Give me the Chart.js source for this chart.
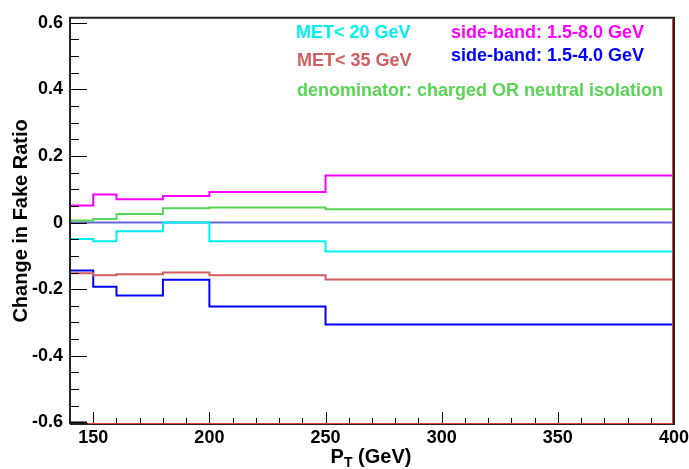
<!DOCTYPE html>
<html>
<head>
<meta charset="utf-8">
<script src="https://cdn.jsdelivr.net/npm/chart.js@4"></script>
<style>
  body { margin: 0; background: #fff; }
</style>
</head>
<body>
<canvas id="myChart" width="689" height="469"></canvas>
<script>
// bin edges in pT (GeV)
var edges = [140, 150, 160, 180, 200, 250, 400];

// change in fake ratio per bin
var sideBand8 = [0.051, 0.084, 0.070, 0.080, 0.092, 0.141];
var denomOr = [0.006, 0.011, 0.026, 0.043, 0.045, 0.040];
var nominal = [0, 0, 0, 0, 0, 0];
var met20 = [-0.049, -0.056, -0.026, 0.0, -0.056, -0.087];
var met35 = [-0.152, -0.158, -0.155, -0.150, -0.158, -0.171];
var sideBand4 = [-0.144, -0.193, -0.219, -0.172, -0.252, -0.306];

var xTicks = [150, 200, 250, 300, 350, 400];
var yTicks = [-0.6, -0.4, -0.2, 0, 0.2, 0.4, 0.6];

var legendItems = [
    { text: "MET< 20 GeV", color: "#00f0f0" },
    { text: "MET< 35 GeV", color: "#cf5e61" },
    { text: "side-band: 1.5-8.0 GeV", color: "#ff00ff" },
    { text: "side-band: 1.5-4.0 GeV", color: "#0000ff" },
    { text: "denominator: charged OR neutral isolation", color: "#59d454" }
];

var FONT = "'Liberation Sans', Arial, Helvetica, sans-serif";

function histPoints(vals) {
    var pts = [];
    for (var i = 0; i < vals.length; i++) {
        pts.push({ x: edges[i], y: vals[i] });
    }
    pts.push({ x: edges[edges.length - 1], y: vals[vals.length - 1] });
    return pts;
}

function hist(vals, color) {
    return {
        data: histPoints(vals),
        borderColor: color,
        borderWidth: 2,
        stepped: 'before',
        pointRadius: 0,
        fill: false
    };
}

const rootFrame = {
    id: 'rootFrame',
    afterDatasetsDraw(chart) {
        const ctx = chart.ctx;
        const a = chart.chartArea;
        const xs = chart.scales.x, ys = chart.scales.y;
        ctx.save();
        ctx.lineCap = 'butt';

        // tick marks inside the frame
        ctx.strokeStyle = '#000';
        ctx.lineWidth = 1;
        xs.ticks.forEach(t => {
            if (t.value <= xs.min || t.value >= xs.max) return;
            const px = Math.round(xs.getPixelForValue(t.value)) + 0.5;
            const len = xTicks.includes(t.value) ? 12 : 6;
            ctx.beginPath();
            ctx.moveTo(px, a.bottom);
            ctx.lineTo(px, a.bottom - len);
            ctx.stroke();
        });
        ys.ticks.forEach(t => {
            const py = Math.round(ys.getPixelForValue(t.value)) + 0.5;
            const major = yTicks.some(v => Math.abs(v - t.value) < 1e-6);
            const len = major ? 17 : 9;
            ctx.lineWidth = major && Math.abs(t.value + 0.6) < 1e-6 ? 2 : 1;
            ctx.beginPath();
            ctx.moveTo(a.left, py);
            ctx.lineTo(a.left + len, py);
            ctx.stroke();
        });

        // frame
        ctx.lineWidth = 2;
        ctx.strokeStyle = '#222';
        ctx.beginPath();
        ctx.moveTo(a.left, a.bottom);
        ctx.lineTo(a.left, a.top);
        ctx.lineTo(a.right, a.top);
        ctx.lineTo(a.right, a.bottom);
        ctx.lineTo(a.left, a.bottom);
        ctx.stroke();
        ctx.lineWidth = 1;
        ctx.strokeStyle = '#e04040';
        ctx.beginPath();
        ctx.moveTo(a.left + 18, a.bottom - 0.5);
        ctx.lineTo(a.right - 1.5, a.bottom - 0.5);
        ctx.lineTo(a.right - 1.5, a.top + 1);
        ctx.stroke();

        // legend texts
        ctx.font = 'bold 18px ' + FONT;
        ctx.textBaseline = 'middle';
        ctx.textAlign = 'left';
        const pos = [[296, 33], [297, 61], [451, 33], [451, 56], [297, 91]];
        legendItems.forEach((it, i) => {
            ctx.fillStyle = it.color;
            ctx.fillText(it.text, pos[i][0], pos[i][1]);
        });

        // x axis title with subscript
        ctx.fillStyle = '#000';
        ctx.textBaseline = 'alphabetic';
        ctx.font = 'bold 20px ' + FONT;
        const w1 = ctx.measureText('P').width;
        ctx.font = 'bold 14px ' + FONT;
        const w2 = ctx.measureText('T').width;
        ctx.font = 'bold 20px ' + FONT;
        const w3 = ctx.measureText(' (GeV)').width;
        let x0 = (a.left + a.right) / 2 - 1 - (w1 + w2 + w3) / 2;
        const base = 463;
        ctx.fillText('P', x0, base);
        ctx.font = 'bold 14px ' + FONT;
        ctx.fillText('T', x0 + w1, base + 4);
        ctx.font = 'bold 20px ' + FONT;
        ctx.fillText(' (GeV)', x0 + w1 + w2, base);
        ctx.restore();
    }
};

const ctx = document.getElementById('myChart');
new Chart(ctx, {
    type: 'line',
    data: {
        datasets: [
            hist(sideBand8, '#ff00ff'),
            hist(denomOr, '#59d454'),
            hist(met20, '#00f0f0'),
            hist(met35, '#cf5e61'),
            hist(sideBand4, '#0000ff'),
            hist(nominal, '#6464d8')
        ]
    },
    options: {
        responsive: false,
        animation: false,
        layout: { padding: { top: 14, right: 0, left: 0, bottom: 0 } },
        plugins: { legend: { display: false }, tooltip: { enabled: false } },
        scales: {
            x: {
                type: 'linear',
                min: 140,
                max: 400,
                afterBuildTicks: s => {
                    const t = [];
                    for (let v = 140; v <= 400; v += 10) t.push({ value: v });
                    s.ticks = t;
                },
                afterFit: s => { s.height = 45; s.paddingRight = 15; },
                grid: { display: false, drawTicks: false, tickLength: 0 },
                border: { display: false },
                ticks: {
                    autoSkip: false,
                    maxRotation: 0,
                    padding: 3,
                    color: '#000',
                    font: { family: FONT, size: 18, weight: 'bold' },
                    callback: v => xTicks.includes(v) ? String(v) : ''
                }
            },
            y: {
                min: -0.605,
                max: 0.615,
                afterBuildTicks: s => {
                    const t = [];
                    for (let i = -12; i <= 12; i++) t.push({ value: i * 0.05 });
                    s.ticks = t;
                },
                afterFit: s => { s.width = 70; },
                grid: { display: false, drawTicks: false, tickLength: 0 },
                border: { display: false },
                title: {
                    display: true,
                    text: 'Change in Fake Ratio',
                    color: '#000',
                    font: { family: FONT, size: 20, weight: 'bold' },
                    padding: { top: 9, bottom: 0 }
                },
                ticks: {
                    autoSkip: false,
                    padding: 7,
                    color: '#000',
                    font: { family: FONT, size: 18, weight: 'bold' },
                    callback: v => {
                        const m = yTicks.find(y => Math.abs(y - v) < 1e-6);
                        if (m === undefined) return '';
                        return m === 0 ? '0' : m.toFixed(1);
                    }
                }
            }
        }
    },
    plugins: [rootFrame]
});
</script>
</body>
</html>
